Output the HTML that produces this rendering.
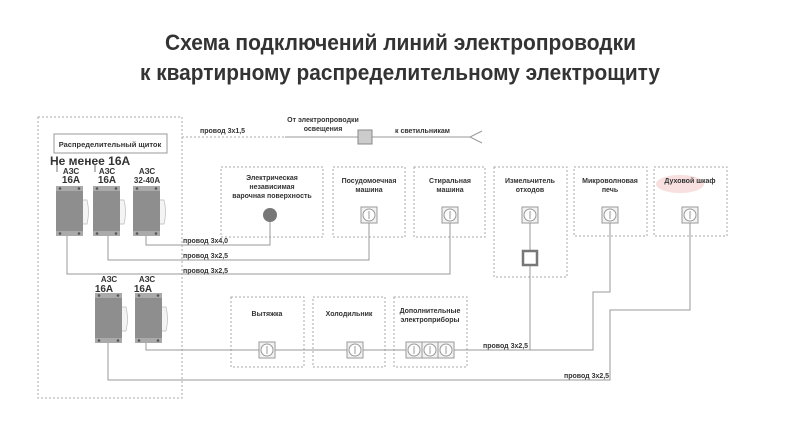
<!DOCTYPE html>
<html><head><meta charset="utf-8"><style>
html,body{margin:0;padding:0;background:#fff;}
svg{display:block}
text{font-family:"Liberation Sans","DejaVu Sans",sans-serif;fill:#333;}
</style></head><body>
<svg width="800" height="421" viewBox="0 0 800 421" xmlns="http://www.w3.org/2000/svg">
<defs>
<g id="sock"><rect x="-8" y="-8" width="16" height="16" fill="#f2f2f2" stroke="#999" stroke-width="1"/><circle r="6" fill="#fff" stroke="#999"/><line x1="0" y1="-4" x2="0" y2="4" stroke="#999"/></g>
<g id="brk"><rect x="0" y="0" width="27" height="50" fill="#8e8e8e"/><rect x="0" y="0" width="27" height="5" fill="#aaa"/><rect x="0" y="45" width="27" height="5" fill="#aaa"/><circle cx="4" cy="2.5" r="1.3" fill="#555"/><circle cx="23" cy="2.5" r="1.3" fill="#555"/><circle cx="4" cy="47.5" r="1.3" fill="#555"/><circle cx="23" cy="47.5" r="1.3" fill="#555"/><path d="M27,14 L31,14 Q34,26 31,38 L27,38" fill="#f4f4f4" stroke="#bbb" stroke-width="0.7"/></g>
</defs>
<text x="165" y="50" font-size="22" font-weight="bold" textLength="471" lengthAdjust="spacingAndGlyphs" fill="#222">Схема подключений линий электропроводки</text>
<text x="140" y="80" font-size="22" font-weight="bold" textLength="520" lengthAdjust="spacingAndGlyphs" fill="#222">к квартирному распределительному электрощиту</text>

<g fill="none" stroke="#aaa" stroke-dasharray="2,2" stroke-width="1">
<rect x="38" y="117" width="144" height="281"/>
<rect x="221" y="167" width="102" height="70"/>
<rect x="333" y="167" width="72" height="70"/>
<rect x="414" y="167" width="71" height="70"/>
<rect x="494" y="167" width="73" height="110"/>
<rect x="574" y="167" width="73" height="69"/>
<rect x="654" y="167" width="73" height="69"/>
<rect x="231" y="297" width="73" height="70"/>
<rect x="313" y="297" width="72" height="70"/>
<rect x="394" y="297" width="73" height="70"/>
<line x1="182" y1="137" x2="285" y2="137"/>
</g>
<ellipse cx="680" cy="184" rx="24" ry="9" fill="#f6d8d8" opacity="0.8"/>
<rect x="54" y="134" width="113" height="19" fill="#fff" stroke="#999"/>
<text x="110" y="147" font-size="7.5" text-anchor="middle" font-weight="bold">Распределительный щиток</text>
<text x="50" y="165" font-size="12" font-weight="bold" fill="#222">Не менее 16А</text>
<line x1="57" y1="165" x2="57" y2="172" stroke="#777"/><line x1="95" y1="165" x2="95" y2="172" stroke="#777"/>
<g font-size="8" text-anchor="middle" font-weight="bold">
<text x="71" y="174">АЗС</text><text x="71" y="183" font-size="10" fill="#222">16А</text>
<text x="107" y="174">АЗС</text><text x="107" y="183" font-size="10" fill="#222">16А</text>
<text x="147" y="174">АЗС</text><text x="147" y="183">32-40А</text>
<text x="109" y="282">АЗС</text><text x="104" y="292" font-size="10" fill="#222">16А</text>
<text x="147" y="282">АЗС</text><text x="143" y="292" font-size="10" fill="#222">16А</text>
</g>
<use href="#brk" x="56" y="186"/><use href="#brk" x="93" y="186"/><use href="#brk" x="133" y="186"/>
<use href="#brk" x="95" y="293"/><use href="#brk" x="135" y="293"/>

<g fill="none" stroke="#999" stroke-width="1">
<polyline points="146,236 146,245 270,245 270,220"/>
<polyline points="108,236 108,260 369,260 369,222"/>
<polyline points="67,236 67,274 450,274 450,222"/>
<polyline points="146,343 146,350 593,350 593,292 610,292 610,222"/>
<polyline points="108,343 108,380 610,380 610,310 690,310 690,222"/>
<line x1="530" y1="222" x2="530" y2="350"/>
<line x1="285" y1="137" x2="470" y2="137"/>
<polyline points="482,131 470,137 482,143"/>
</g>
<rect x="358" y="130" width="14" height="14" fill="#ccc" stroke="#888"/>
<rect x="523" y="251" width="14" height="14" fill="#fff" stroke="#777" stroke-width="2.5"/>
<circle cx="270" cy="215" r="7" fill="#777"/>
<use href="#sock" x="369" y="215"/><use href="#sock" x="450" y="215"/>
<use href="#sock" x="530" y="215"/><use href="#sock" x="610" y="215"/><use href="#sock" x="690" y="215"/>
<use href="#sock" x="267" y="350"/><use href="#sock" x="355" y="350"/>
<use href="#sock" x="414" y="350"/><use href="#sock" x="430" y="350"/><use href="#sock" x="446" y="350"/>

<g font-size="7" text-anchor="middle" font-weight="bold">
<text x="272" y="180">Электрическая</text><text x="272" y="189">независимая</text><text x="272" y="198">варочная поверхность</text>
<text x="369" y="183">Посудомоечная</text><text x="369" y="192">машина</text>
<text x="450" y="183">Стиральная</text><text x="450" y="192">машина</text>
<text x="530" y="183">Измельчитель</text><text x="530" y="192">отходов</text>
<text x="610" y="183">Микроволновая</text><text x="610" y="192">печь</text>
<text x="690" y="183">Духовой шкаф</text>
<text x="267" y="316">Вытяжка</text>
<text x="349" y="316">Холодильник</text>
<text x="430" y="313">Дополнительные</text><text x="430" y="322">электроприборы</text>
<text x="323" y="122">От электропроводки</text><text x="323" y="131">освещения</text>
</g>
<g font-size="7" font-weight="bold">
<text x="200" y="133">провод 3х1,5</text>
<text x="395" y="133">к светильникам</text>
<text x="183" y="243">провод 3х4,0</text>
<text x="183" y="258">провод 3х2,5</text>
<text x="183" y="273">провод 3х2,5</text>
<text x="483" y="348">провод 3х2,5</text>
<text x="564" y="378">провод 3х2,5</text>
</g>
</svg>
</body></html>
